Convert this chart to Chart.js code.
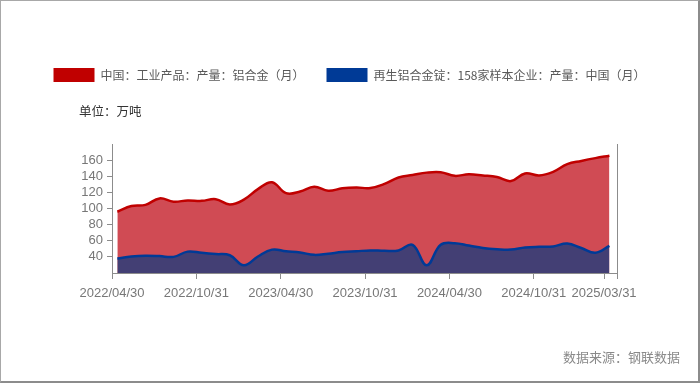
<!DOCTYPE html>
<html><head><meta charset="utf-8">
<script src="https://cdn.jsdelivr.net/npm/chart.js@4/dist/chart.umd.min.js"></script>
<style>
html,body{margin:0;padding:0;background:#fff;}
#wrap{position:relative;width:700px;height:383px;box-sizing:border-box;border-top:1px solid #a8a8a8;border-left:1px solid #a8a8a8;border-right:2px solid #8c8c8c;border-bottom:2px solid #8c8c8c;background:#fff;overflow:hidden;}
canvas{position:absolute;left:0;top:0;}
.t{position:absolute;font-family:"Noto Sans CJK SC";line-height:1;white-space:nowrap;}
</style></head><body>
<div id="wrap">
<canvas id="c" width="697" height="380"></canvas>
<div class="t" style="left:78px;top:104px;font-size:12.5px;color:#333;">单位：万吨</div>
<div class="t" style="right:18px;top:349px;font-size:13px;color:#8a8a8a;">数据来源：钢联数据</div>
</div>
<script>
const months = ['2022/04','2022/05','2022/06','2022/07','2022/08','2022/09','2022/10','2022/11','2022/12',
  '2023/01','2023/02','2023/03','2023/04','2023/05','2023/06','2023/07','2023/08','2023/09','2023/10','2023/11','2023/12',
  '2024/01','2024/02','2024/03','2024/04','2024/05','2024/06','2024/07','2024/08','2024/09','2024/10','2024/11','2024/12',
  '2025/01','2025/02','2025/03'];
const aluminumAlloy = [96, 103, 104.5, 112.5, 108.5, 110, 109.5, 111.5, 105, 111, 124, 132.5,
  119, 121, 127, 122, 125, 126, 125.5, 130.5, 138.5, 141.5, 144.5, 145,
  140.5, 142.5, 141, 139, 134, 143.5, 141, 145.5, 155, 159, 162.5, 165.5];
const recycledIngot = [38, 40.5, 41.5, 41, 40, 46.5, 45, 43.5, 42, 29.5, 40.5, 49,
  47, 45.5, 42.5, 44, 46, 47, 48, 47.5, 48, 55, 29.5, 55,
  57, 54, 51, 49.5, 49, 51.5, 52.5, 53, 56.5, 51, 45, 53.5];
const seriesNames = ['中国：工业产品：产量：铝合金（月）', '再生铝合金锭：158家样本企业：产量：中国（月）'];
const tickLabels = ['2022/04/30','2022/10/31','2023/04/30','2023/10/31','2024/04/30','2024/10/31','2025/03/31'];
const tickMonths = ['2022/04','2022/10','2023/04','2023/10','2024/04','2024/10','2025/03'];
const yTicks = [40, 60, 80, 100, 120, 140, 160];

const OFF = 0.38;
const tickIdx = tickMonths.map(m => months.indexOf(m));
const toPts = arr => arr.map((v, i) => ({x: i, y: v}));
const labelFont = "'Liberation Sans',sans-serif";
const axisColor = '#8c8c8c';

new Chart(document.getElementById('c'), {
  type: 'line',
  data: {
    datasets: [
      {label: seriesNames[0], data: toPts(aluminumAlloy), borderColor: '#c00000', backgroundColor: '#d04b54',
       fill: 'start', borderWidth: 2.5, pointRadius: 0, tension: 0.4, order: 1},
      {label: seriesNames[1], data: toPts(recycledIngot), borderColor: '#003a96', backgroundColor: '#433f74',
       fill: 'start', borderWidth: 2.5, pointRadius: 0, tension: 0.4, order: 0}
    ]
  },
  options: {
    responsive: false,
    animation: false,
    layout: {padding: {top: 45, left: 0, right: 0, bottom: 0}},
    plugins: {
      tooltip: {enabled: false},
      legend: {
        display: true, position: 'top',
        labels: {
          boxWidth: 41, boxHeight: 14, padding: 22, color: '#595959',
          font: {family: "'Noto Sans CJK SC'", size: 12},
          generateLabels: chart => chart.data.datasets.map((ds, i) => ({
            text: ds.label, fillStyle: ds.borderColor, strokeStyle: ds.borderColor, lineWidth: 0,
            hidden: false, datasetIndex: i, fontColor: '#595959'
          }))
        }
      },
      title: {display: true, text: '', weight: 500, font: {size: 10, lineHeight: 1}, padding: {top: 0, bottom: 42}}
    },
    scales: {
      x: {
        type: 'linear', min: -OFF, max: 35.54,
        afterBuildTicks: s => { s.ticks = tickIdx.map(i => ({value: i - OFF})).concat([{value: 35.54}]); },
        afterFit: s => { s.height = 108; },
        ticks: {autoSkip: false, maxRotation: 0, color: '#777', padding: 7,
          font: {family: labelFont, size: 13},
          callback: (v, i) => tickLabels[i] !== undefined ? tickLabels[i] : ''},
        grid: {display: true, drawOnChartArea: false, drawTicks: true, tickLength: 6, color: axisColor},
        border: {display: true, color: axisColor, width: 1}
      },
      y: {
        type: 'linear', position: 'left', min: 20, max: 180,
        afterBuildTicks: s => { s.ticks = yTicks.map(v => ({value: v})); },
        afterFit: s => { s.width = 111; },
        ticks: {color: '#777', padding: 4, font: {family: labelFont, size: 13}},
        grid: {display: true, drawOnChartArea: false, drawTicks: true, tickLength: 5, color: axisColor},
        border: {display: true, color: axisColor, width: 1}
      },
      y2: {
        type: 'linear', position: 'right', min: 0, max: 1,
        afterFit: s => { s.width = 81; },
        ticks: {display: false},
        grid: {display: false},
        border: {display: true, color: axisColor, width: 1}
      }
    }
  }
});
</script>
</body></html>
